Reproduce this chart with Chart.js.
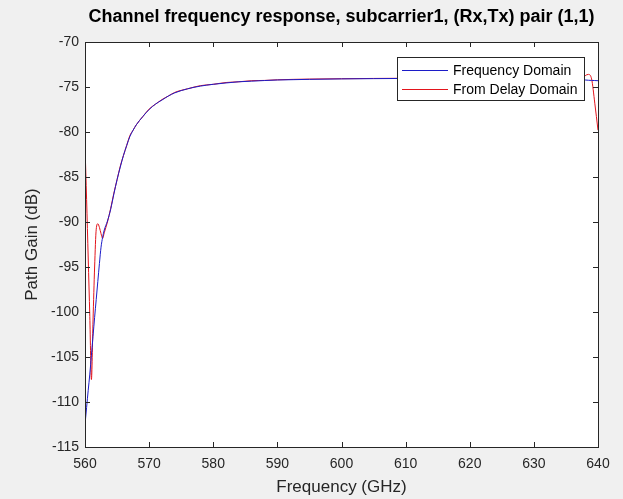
<!DOCTYPE html>
<html>
<head>
<meta charset="utf-8">
<script src="https://cdn.jsdelivr.net/npm/chart.js@4"></script>
<style>
  html, body { margin: 0; padding: 0; background: #f0f0f0; }
  #wrap { width: 623px; height: 499px; }
</style>
</head>
<body>
<div id="wrap"><canvas id="myChart" width="623" height="499"></canvas></div>
<script>
// frequency grid (GHz)
const freq = [560, 560.25, 560.5, 560.75, 561, 561.25, 561.5, 561.75, 562, 562.25, 562.5, 562.75, 563, 563.5,
    564, 564.5, 565, 565.5, 566, 566.5, 567, 567.5, 568, 569, 570, 571, 572, 573, 574, 576, 578, 580, 582, 584, 586, 588,
    590, 595, 600, 605, 610, 615, 620, 625, 630, 633, 635, 636, 637, 637.5, 638, 638.5, 639, 639.5, 640]

// path gain computed in frequency domain (dB)
const gainFreq = [-112.5, -110.6, -108.7, -106.9, -104.8, -102.7, -100.6, -98.6, -96.6, -94.6, -92.8, -91.7, -90.9, -89.9,
    -88.6, -86.9, -85.3, -83.9, -82.6, -81.5, -80.5, -79.8, -79.2, -78.3, -77.5, -76.9, -76.45, -76.0, -75.65, -75.2, -74.9, -74.7, -74.55, -74.42, -74.35, -74.28,
    -74.22, -74.15, -74.1, -74.07, -74.05, -74.03, -74.02, -74.02, -74.05, -74.08, -74.12, -74.15, -74.18, -74.2, -74.22, -74.25, -74.27, -74.28, -74.3]

// path gain going back from the delay domain (dB)
const gainDelay = [-81.5, -87.5, -94.0, -100.5, -107.5, -101.0, -95.0, -90.8, -90.2, -90.6, -91.3, -91.8, -91.2, -90.0,
    -88.5, -86.8, -85.3, -83.8, -82.6, -81.5, -80.4, -79.8, -79.2, -78.3, -77.45, -76.9, -76.4, -76.0, -75.6, -75.2, -74.85, -74.7, -74.5, -74.42, -74.3, -74.27,
    -74.2, -74.12, -74.08, -74.05, -74.03, -74.02, -74.0, -74.0, -74.05, -74.1, -74.15, -74.2, -74.25, -74.2, -73.75, -73.6, -74.1, -76.8, -79.8]

const xTicks = [560, 570, 580, 590, 600, 610, 620, 630, 640]
const yTicks = [-115, -110, -105, -100, -95, -90, -85, -80, -75, -70]

const seriesNames = ["Frequency Domain", "From Delay Domain"]
const seriesColors = ["#1c1cc8", "#e3141c"]

const FONT = "'Liberation Sans', Arial, Helvetica, sans-serif"
const AXIS_COLOR = "#262626"

const toPoints = ys => freq.map((f, i) => ({x: f, y: ys[i]}))

// white axes box, frame and inward tick marks like a matlab figure
const axesBox = {
    id: "axesBox",
    beforeDraw(chart) {
        const {ctx, chartArea: a} = chart
        ctx.save()
        ctx.fillStyle = "#ffffff"
        ctx.fillRect(a.left, a.top, a.right - a.left, a.bottom - a.top)
        ctx.restore()
    },
    afterDraw(chart) {
        const {ctx, chartArea: a, scales} = chart
        const len = 5
        ctx.save()
        ctx.strokeStyle = AXIS_COLOR
        ctx.lineWidth = 1
        ctx.beginPath()
        xTicks.forEach(v => {
            const px = Math.round(scales.x.getPixelForValue(v)) + 0.5
            ctx.moveTo(px, a.bottom); ctx.lineTo(px, a.bottom - len)
            ctx.moveTo(px, a.top); ctx.lineTo(px, a.top + len)
        })
        yTicks.forEach(v => {
            const py = Math.round(scales.y.getPixelForValue(v)) + 0.5
            ctx.moveTo(a.left, py); ctx.lineTo(a.left + len, py)
            ctx.moveTo(a.right, py); ctx.lineTo(a.right - len, py)
        })
        ctx.stroke()
        ctx.strokeRect(Math.round(a.left) + 0.5, Math.round(a.top) + 0.5,
            Math.round(a.right - a.left), Math.round(a.bottom - a.top))
        ctx.restore()
    }
}

// legend box in the upper right corner of the axes
const boxLegend = {
    id: "boxLegend",
    afterDatasetsDraw(chart) {
        const {ctx, chartArea: a} = chart
        const w = 187, h = 43
        const x0 = a.right - 14 - w, y0 = a.top + 15
        ctx.save()
        ctx.fillStyle = "#ffffff"
        ctx.fillRect(x0, y0, w, h)
        ctx.strokeStyle = AXIS_COLOR
        ctx.lineWidth = 1
        ctx.strokeRect(Math.round(x0) + 0.5, Math.round(y0) + 0.5, w, h)
        ctx.font = "14px " + FONT
        ctx.textBaseline = "middle"
        chart.data.datasets.forEach((ds, i) => {
            const y = Math.round(y0 + 13 + i * 19) + 0.5
            ctx.strokeStyle = ds.borderColor
            ctx.beginPath()
            ctx.moveTo(x0 + 5, y)
            ctx.lineTo(x0 + 51, y)
            ctx.stroke()
            ctx.fillStyle = "#000000"
            ctx.fillText(ds.label, x0 + 56, y + 1)
        })
        ctx.restore()
    }
}

const ctx = document.getElementById("myChart").getContext("2d")

new Chart(ctx, {
    type: "line",
    data: {
        datasets: [{
            label: seriesNames[0],
            data: toPoints(gainFreq),
            borderColor: seriesColors[0],
            borderWidth: 1,
            pointRadius: 0,
            cubicInterpolationMode: "monotone"
        }, {
            label: seriesNames[1],
            data: toPoints(gainDelay),
            borderColor: seriesColors[1],
            borderWidth: 1,
            pointRadius: 0,
            cubicInterpolationMode: "monotone"
        }]
    },
    options: {
        responsive: false,
        animation: false,
        layout: {padding: {left: 0, right: 25, top: 0, bottom: 0}},
        plugins: {
            legend: {display: false},
            tooltip: {enabled: false},
            title: {
                display: true,
                fullSize: false,
                text: "Channel frequency response, subcarrier1, (Rx,Tx) pair (1,1)",
                color: "#000000",
                font: {family: FONT, size: 18, weight: "bold"},
                padding: {top: 6, bottom: 14.4}
            }
        },
        scales: {
            x: {
                type: "linear",
                min: 560,
                max: 640,
                afterBuildTicks: scale => { scale.ticks = xTicks.map(v => ({value: v})) },
                afterFit: scale => { scale.height = 52 },
                grid: {display: false, drawTicks: false, tickLength: 0},
                border: {display: false},
                ticks: {color: AXIS_COLOR, font: {family: FONT, size: 14}, padding: 9, maxRotation: 0},
                title: {
                    display: true,
                    text: "Frequency (GHz)",
                    color: AXIS_COLOR,
                    font: {family: FONT, size: 17},
                    padding: {top: 0, bottom: 1}
                }
            },
            y: {
                min: -115,
                max: -70,
                afterBuildTicks: scale => { scale.ticks = yTicks.map(v => ({value: v})) },
                afterFit: scale => { scale.width = 85 },
                grid: {display: false, drawTicks: false, tickLength: 0},
                border: {display: false},
                ticks: {color: AXIS_COLOR, font: {family: FONT, size: 14}, padding: 6},
                title: {
                    display: true,
                    text: "Path Gain (dB)",
                    color: AXIS_COLOR,
                    font: {family: FONT, size: 17},
                    padding: {top: 22, bottom: 0}
                }
            }
        }
    },
    plugins: [axesBox, boxLegend]
})
</script>
</body>
</html>
